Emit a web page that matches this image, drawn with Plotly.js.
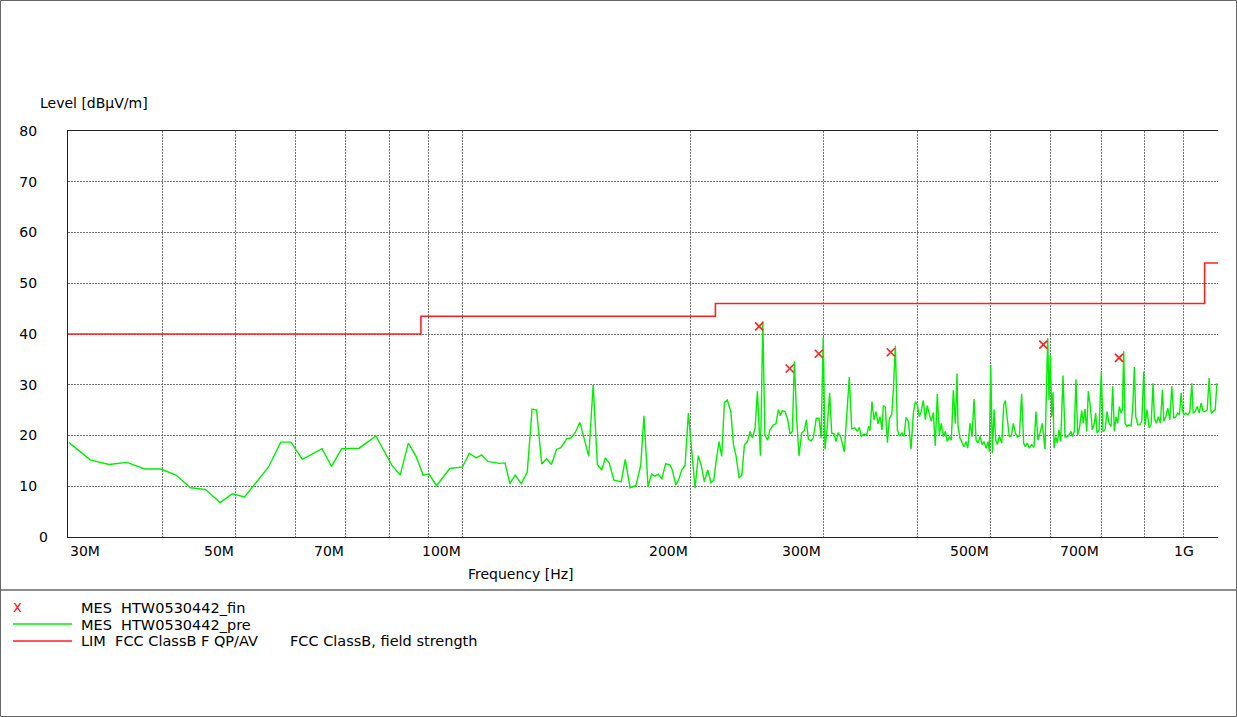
<!DOCTYPE html>
<html><head><meta charset="utf-8">
<script src="https://cdn.plot.ly/plotly-3.0.1.min.js"></script>
<style>html,body{margin:0;padding:0;background:#fff;}#chart{width:1237px;height:717px;}</style>
</head><body><div id="chart"></div>
<script>
// ---- data (frequency in MHz, level in dBµV/m) ----
const preFreqMHz = [30.1,32.1,34.0,35.9,37.9,39.8,41.7,43.6,45.6,47.7,49.5,51.4,55.3,57.4,59.2,61.3,65.1,67.0,69.1,72.9,76.7,80.5,82.6,84.7,86.7,88.6,90.2,92.3,96.1,97.6,99.9,102.0,104.1,105.9,107.9,111.7,113.7,115.4,117.3,119.5,121.7,123.5,125.2,127.2,129.1,131.0,133.1,134.9,137.3,139.0,140.9,142.9,145.1,146.8,148.8,150.7,152.7,154.4,156.3,158.5,162.1,164.1,166.5,169.5,172.0,173.7,175.9,177.8,179.6,181.5,183.4,185.6,188.1,189.4,191.4,192.9,194.9,196.9,198.9,201.0,203.0,205.0,206.8,208.8,211.0,213.1,214.9,216.9,218.4,220.2,222.0,224.0,226.4,228.2,230.1,232.2,234.1,236.0,238.2,240.1,241.8,243.8,245.5,247.8,249.6,251.2,253.3,255.1,257.7,259.8,261.7,263.3,264.9,267.1,269.3,271.2,273.1,274.8,276.8,278.7,281.0,283.3,285.0,286.8,289.1,291.2,293.8,296.3,298.1,300.1,301.7,303.8,306.0,307.9,310.3,312.0,314.1,316.8,320.0,324.9,327.3,330.6,332.9,335.0,337.0,339.8,342.6,344.7,346.1,348.2,350.3,352.5,354.6,356.8,359.0,360.4,362.6,364.9,367.1,369.8,371.6,373.9,376.2,378.5,381.6,383.9,386.3,389.0,392.2,395.0,397.4,399.8,402.3,404.4,407.2,409.7,412.1,414.7,417.2,419.8,422.3,424.9,427.5,430.1,432.8,435.4,438.1,440.8,443.5,446.2,448.9,451.2,452.6,455.3,458.1,460.9,463.8,466.2,469.5,472.4,475.3,478.2,481.1,484.1,487.1,490.0,493.0,496.0,498.0,500.1,502.6,505.2,507.8,510.3,513.4,517.2,520.3,522.9,526.1,529.3,532.5,535.8,539.1,542.4,545.7,549.5,552.9,555.6,559.0,562.4,566.6,570.5,574.1,577.6,581.1,585.2,590.1,595.0,597.3,599.7,602.3,604.7,606.5,609.7,612.7,615.8,619.0,623.4,627.2,631.0,634.8,638.7,641.3,645.2,648.5,651.9,655.9,659.9,663.1,666.6,670.1,673.4,677.5,681.6,685.8,688.7,691.5,695.7,700.6,704.2,708.6,712.9,717.3,721.7,725.4,729.0,732.8,736.6,740.2,744.1,747.0,750.2,753.2,757.8,762.4,767.1,771.1,774.9,778.2,783.0,787.8,792.6,797.5,800.6,805.5,810.5,815.4,820.4,823.7,828.7,833.8,838.9,844.1,847.7,852.9,858.1,863.4,868.6,874.0,879.3,884.7,889.1,893.7,897.2,901.1,906.6,912.1,917.7,923.3,927.0,932.7,938.4,944.1,949.9,955.8,961.6,967.5,973.4,979.4,985.4,991.4,996.8];
const preLevel = [18.6,15.2,14.3,14.7,13.4,13.4,12.2,9.7,9.4,6.8,8.5,7.9,13.8,18.7,18.7,15.3,17.4,13.9,17.4,17.5,19.9,14.2,12.2,18.5,15.9,12.2,12.4,10.1,13.5,13.6,13.8,16.5,15.6,16.2,14.9,14.5,14.6,10.5,12.2,10.5,12.8,25.2,25.0,14.4,15.4,14.3,17.3,17.6,19.4,19.5,20.6,22.6,18.5,15.9,30.0,14.3,13.2,15.6,14.5,11.2,10.9,15.3,9.7,10.1,14.1,23.9,9.9,12.4,12.0,12.4,11.4,14.4,14.2,13.2,10.3,11.1,13.2,14.1,24.4,17.2,9.6,16.0,14.2,10.9,13.2,10.7,11.2,15.9,18.8,15.9,26.5,27.0,24.7,18.2,15.9,11.6,12.2,18.2,18.8,20.8,19.5,21.5,28.7,16.0,42.5,20.1,19.1,21.1,22.1,22.3,25.1,23.9,24.9,24.7,23.1,20.3,20.8,34.6,23.1,16.0,20.5,21.0,23.1,19.3,18.9,19.6,23.4,23.4,19.5,39.4,17.3,21.8,28.4,20.5,20.3,18.8,20.6,19.5,16.8,31.5,21.3,21.5,20.8,21.6,19.8,20.3,20.1,21.8,21.0,26.7,23.1,24.7,22.3,23.7,21.1,25.9,25.6,18.6,23.4,24.1,29.0,37.7,21.1,19.9,20.5,19.8,23.6,22.8,17.3,24.4,26.7,26.0,23.7,24.7,26.9,23.1,25.9,24.1,22.8,24.5,18.0,28.2,20.1,22.4,19.8,20.8,18.8,19.8,19.1,28.9,22.3,32.2,21.8,19.5,18.5,17.8,18.8,17.5,22.4,19.8,27.2,19.1,18.5,19.8,18.2,18.8,17.5,18.8,16.8,33.9,16.5,25.1,19.1,18.2,19.8,18.5,26.0,26.9,23.1,19.8,19.9,22.4,20.5,19.7,19.9,28.2,18.5,17.8,18.5,17.5,18.2,17.7,24.7,19.1,20.5,22.4,17.3,39.2,27.0,35.9,23.7,28.5,17.5,19.8,18.5,21.1,18.8,31.8,19.7,19.7,20.1,20.8,19.8,20.8,31.1,20.1,21.8,24.9,22.4,25.2,20.8,28.7,25.7,21.1,22.4,24.4,20.5,21.1,32.6,20.8,21.1,24.7,22.4,21.8,29.7,20.8,23.7,22.4,25.7,24.4,25.1,36.6,22.4,21.8,22.1,21.9,25.4,33.5,23.7,22.1,22.1,22.8,32.6,22.1,25.1,21.5,22.1,30.3,23.4,22.4,23.7,22.4,29.0,22.8,23.7,25.4,23.1,29.7,23.4,23.7,24.4,24.1,28.4,25.1,24.1,24.4,24.1,24.7,30.3,24.4,24.7,25.7,24.4,26.4,24.7,24.7,25.1,31.3,24.4,24.7,25.1,30.3];
const finFreqMHz = [246.8, 270.9, 296.0, 368.7, 587.0, 739.5];
const finLevel = [41.5, 33.2, 36.1, 36.4, 37.9, 35.3];
const limFreqMHz = [30, 88, 216, 960, 1000];
const limLevel = [40, 43.5, 46, 54, 54];
const gridFreqMHz = [30,40,50,60,70,80,90,100,200,300,400,500,600,700,800,900,1000];
const xTickFreqMHz = [30,50,70,100,200,300,500,700,1000];
const xTickText = ['30M','50M','70M','100M','200M','300M','500M','700M','1G'];
const yTickVals = [10,20,30,40,50,60,70,80];
const yTickText = ['10','20','30','40','50','60','70','80'];

const legendLabels = ['MES\u00a0\u00a0HTW0530442_fin','MES\u00a0\u00a0HTW0530442_pre','LIM\u00a0\u00a0FCC ClassB F QP/AV'];
const legendExtra = 'FCC ClassB, field strength';

// ---- geometry helpers (plot area in px) ----
const W = 1237, H = 717, L = 68, R = 1218, T = 131, B = 537;
const px = x => (x - L) / (R - L);
const py = y => (B - y) / (B - T);

const RED = '#ff2020', GREEN = '#00ee00';
const FONT = {family: 'DejaVu Sans, sans-serif', size: 14, color: '#000'};
const LFONT = {family: 'DejaVu Sans, sans-serif', size: 14.5, color: '#000'};

const traces = [
  {x: limFreqMHz, y: limLevel, type: 'scatter', mode: 'lines', line: {shape: 'hv', color: RED, width: 1.6}, hoverinfo: 'skip'},
  {x: preFreqMHz, y: preLevel, type: 'scatter', mode: 'lines', line: {color: GREEN, width: 1.4}, hoverinfo: 'skip'},
  {x: finFreqMHz, y: finLevel, type: 'scatter', mode: 'markers', marker: {symbol: 'x-thin', size: 8, line: {color: RED, width: 1.6}, color: RED}, hoverinfo: 'skip'}
];

const annotations = [];
xTickFreqMHz.forEach((f, i) => {
  annotations.push({xref: 'x', yref: 'paper', x: Math.log10(f), y: py(551), text: xTickText[i],
    xanchor: i === 0 ? 'left' : 'right', yanchor: 'middle', showarrow: false, font: FONT,
    xshift: (i === xTickFreqMHz.length - 1) ? -22 : 0});
});
annotations.push({xref: 'paper', yref: 'paper', x: px(50), y: 0, text: '0', xanchor: 'right', yanchor: 'middle', showarrow: false, font: FONT});
annotations.push({xref: 'paper', yref: 'paper', x: px(38), y: py(103), text: 'Level [dBµV/m]', xanchor: 'left', yanchor: 'middle', showarrow: false, font: FONT});
annotations.push({xref: 'paper', yref: 'paper', x: px(466), y: py(573.5), text: 'Frequency [Hz]', xanchor: 'left', yanchor: 'middle', showarrow: false, font: FONT});
// legend
annotations.push({xref: 'paper', yref: 'paper', x: px(17.3), y: py(607), text: 'x', xanchor: 'center', yanchor: 'middle', showarrow: false, font: {family: FONT.family, size: 15, color: RED}});
[607.5, 624.5, 641].forEach((yy, i) => {
  annotations.push({xref: 'paper', yref: 'paper', x: px(79), y: py(yy), text: legendLabels[i], xanchor: 'left', yanchor: 'middle', showarrow: false, font: LFONT});
});
annotations.push({xref: 'paper', yref: 'paper', x: px(288), y: py(641), text: legendExtra, xanchor: 'left', yanchor: 'middle', showarrow: false, font: LFONT});

const shapes = [
  {type: 'rect', xref: 'paper', yref: 'paper', x0: px(0.5), x1: px(W - 0.5), y0: py(H - 0.5), y1: py(0.5), line: {color: '#666', width: 1}},
  {type: 'line', xref: 'paper', yref: 'paper', x0: px(0.5), x1: px(W - 0.5), y0: py(590), y1: py(590), line: {color: '#666', width: 1.5}},
  {type: 'line', xref: 'paper', yref: 'paper', x0: px(13), x1: px(72), y0: py(624), y1: py(624), line: {color: GREEN, width: 1.4}},
  {type: 'line', xref: 'paper', yref: 'paper', x0: px(13), x1: px(72), y0: py(641), y1: py(641), line: {color: RED, width: 1.6}}
];

const layout = {
  width: W, height: H,
  margin: {l: L, r: W - R, t: T, b: H - B, pad: 0},
  paper_bgcolor: '#fff', plot_bgcolor: '#fff',
  showlegend: false,
  font: FONT,
  xaxis: {type: 'log', range: [Math.log10(30), Math.log10(1000)], tickmode: 'array', tickvals: gridFreqMHz,
    showticklabels: false, ticks: '', showgrid: true, gridcolor: '#777', griddash: '2px,1px', gridwidth: 1,
    showline: true, linecolor: '#222', linewidth: 1, mirror: true, zeroline: false, fixedrange: true},
  yaxis: {range: [0, 80], tickmode: 'array', tickvals: yTickVals, ticktext: yTickText,
    ticks: 'outside', ticklen: 27, tickcolor: 'rgba(0,0,0,0)', tickfont: FONT,
    showgrid: true, gridcolor: '#777', griddash: '2px,1px', gridwidth: 1,
    showline: true, linecolor: '#222', linewidth: 1, zeroline: false, fixedrange: true},
  annotations: annotations,
  shapes: shapes
};

Plotly.newPlot('chart', traces, layout, {staticPlot: true, displayModeBar: false});
</script>
</body></html>
